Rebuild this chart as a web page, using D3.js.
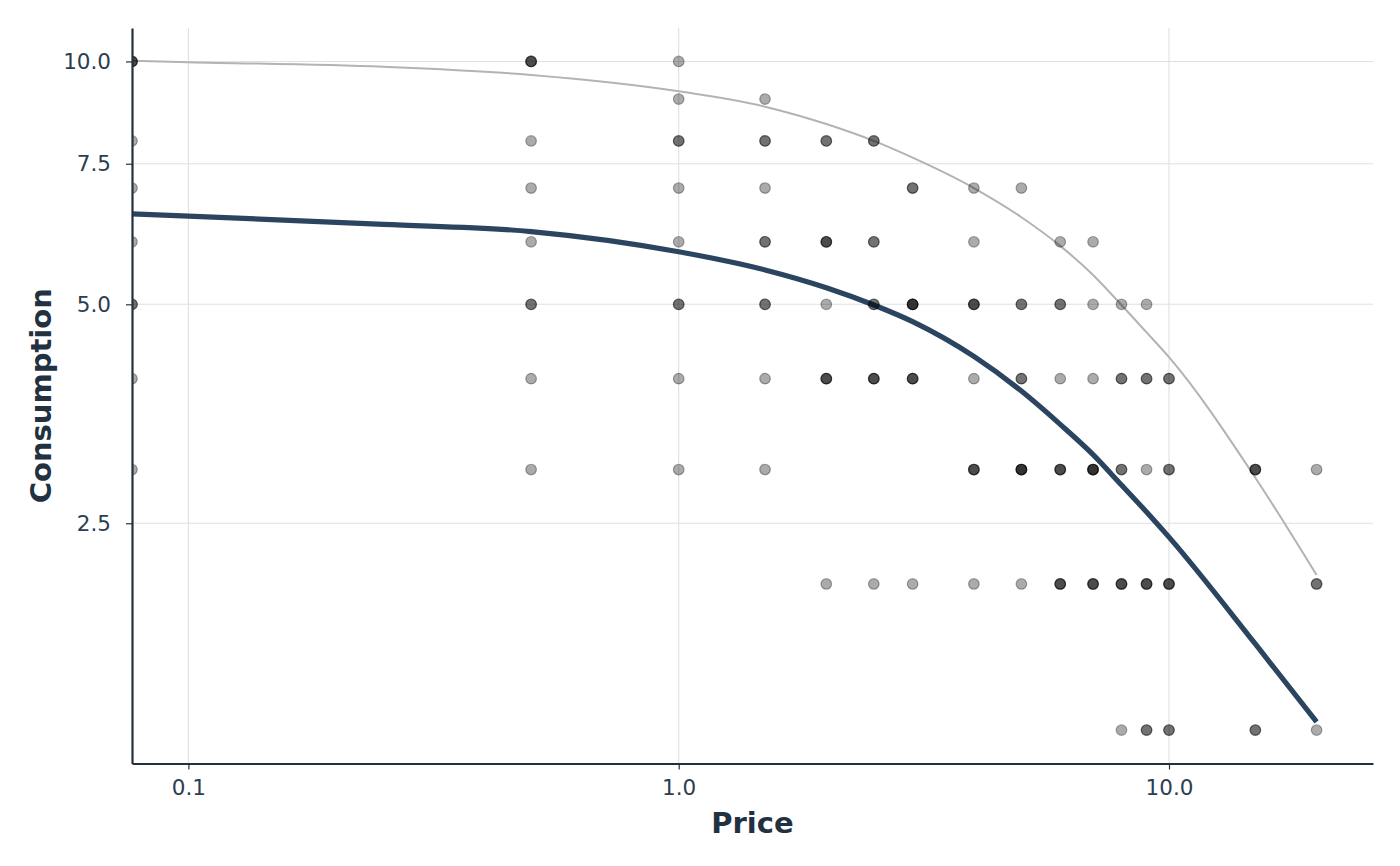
<!DOCTYPE html>
<html>
<head>
<meta charset="utf-8">
<script src="https://cdn.jsdelivr.net/npm/d3@7"></script>
<style>
  html, body { margin: 0; padding: 0; background: #ffffff; }
  svg { display: block; font-family: "DejaVu Sans", sans-serif; }
</style>
</head>
<body>
<svg id="chart" width="1400" height="866"></svg>
<script>
// ---------- data ----------
const xTickValues = [0.1, 1, 10];
const xTickLabels = ["0.1", "1.0", "10.0"];
const yTickValues = [2.5, 5, 7.5, 10];
const yTickLabels = ["2.5", "5.0", "7.5", "10.0"];

// observed data (price 0 is drawn at the left panel edge, as on a log axis)
const obsPrice = [0,0,0,0,0,0,0, 0.5,0.5,0.5,0.5,0.5,0.5,0.5, 1,1,1,1,1,1,1,1,
  1.5,1.5,1.5,1.5,1.5,1.5,1.5, 2,2,2,2,2, 2.5,2.5,2.5,2.5,2.5, 3,3,3,3,
  4,4,4,4,4,4, 5,5,5,5,5, 6,6,6,6,6, 7,7,7,7,7, 8,8,8,8,8, 9,9,9,9,9,
  10,10,10,10, 15,15, 20,20,20];
const obsConsumption = [10,8,7,6,5,4,3, 10,8,7,6,5,4,3, 10,9,8,7,6,5,4,3,
  9,8,7,6,5,4,3, 8,6,5,4,2, 8,6,5,4,2, 7,5,4,2,
  7,6,5,4,3,2, 7,5,4,3,2, 6,5,4,3,2, 6,5,4,3,2, 5,4,3,2,1, 5,4,3,2,1,
  4,3,2,1, 3,1, 3,2,1];
const obsCount = [3,1,1,1,2,1,1, 3,1,1,1,2,1,1, 1,1,2,1,1,2,1,1,
  1,2,1,2,2,1,1, 2,3,1,3,1, 2,2,2,3,1, 2,4,3,1,
  1,1,3,1,3,1, 1,2,2,4,1, 1,2,1,3,3, 1,1,1,4,3, 1,2,2,3,1, 1,2,1,3,2,
  2,2,3,2, 3,2, 1,2,1];

// fitted curves
const curvePrice = [0, 0.1, 0.25, 0.5, 1, 1.5, 2, 2.5, 3, 4, 5, 6, 7, 8, 9, 10, 15, 20];
const grayCurve  = [10.02, 9.98, 9.85, 9.63, 9.20, 8.81, 8.39, 8.00, 7.63, 7.00, 6.44, 5.93, 5.45, 4.99, 4.60, 4.27, 2.92, 2.07];
const blueCurve  = [6.50, 6.46, 6.31, 6.18, 5.83, 5.53, 5.25, 4.99, 4.75, 4.28, 3.85, 3.47, 3.15, 2.85, 2.60, 2.38, 1.56, 1.05];

// ---------- scales ----------
const svg = d3.select("#chart");
const L = 132, R = 1373, T = 28, B = 763.5;

const xLo = Math.log10(0.1), xHi = Math.log10(20), xPad = (xHi - xLo) * 0.05;
const x = d3.scaleLog().domain([Math.pow(10, xLo - xPad), Math.pow(10, xHi + xPad)]).range([L, R]);
const px = p => p > 0 ? x(p) : x.range()[0];

const yT = v => Math.asinh(v / 2);           // pseudo-log transform
const yLo = yT(1), yHi = yT(10), yPad = (yHi - yLo) * 0.05;
const yLin = d3.scaleLinear().domain([yLo - yPad, yHi + yPad]).range([B, T]);
const py = v => yLin(yT(v));

const gridColor = "#e0e0e0";
const axisColor = "#22313f";
const textColor = "#2c3e50";

// ---------- grid ----------
const grid = svg.append("g");
grid.selectAll("line.gx").data(xTickValues).enter().append("line")
  .attr("x1", d => x(d)).attr("x2", d => x(d)).attr("y1", T).attr("y2", B)
  .attr("stroke", gridColor).attr("stroke-width", 1.1);
grid.selectAll("line.gy").data(yTickValues).enter().append("line")
  .attr("x1", L).attr("x2", R).attr("y1", d => py(d)).attr("y2", d => py(d))
  .attr("stroke", gridColor).attr("stroke-width", 1.1);

// ---------- clip ----------
svg.append("defs").append("clipPath").attr("id", "panel")
  .append("rect").attr("x", L).attr("y", T).attr("width", R - L).attr("height", B - T);
const panel = svg.append("g").attr("clip-path", "url(#panel)");

// ---------- curves ----------
const line = d3.line().x(d => px(d[0])).y(d => py(d[1])).curve(d3.curveMonotoneX);
panel.append("path").datum(curvePrice.map((p, i) => [p, grayCurve[i]]))
  .attr("d", line).attr("fill", "none").attr("stroke", "#b3b3b3").attr("stroke-width", 2);
panel.append("path").datum(curvePrice.map((p, i) => [p, blueCurve[i]]))
  .attr("d", line).attr("fill", "none").attr("stroke", "#2b4561").attr("stroke-width", 5.2);

// ---------- points ----------
const pts = [];
obsPrice.forEach((p, i) => { for (let k = 0; k < obsCount[i]; k++) pts.push([p, obsConsumption[i]]); });
panel.selectAll("circle").data(pts).enter().append("circle")
  .attr("cx", d => px(d[0])).attr("cy", d => py(d[1])).attr("r", 5.3)
  .attr("fill", "#000").attr("fill-opacity", 0.33)
  .attr("stroke", "#000").attr("stroke-opacity", 0.33).attr("stroke-width", 1.2);

// ---------- axes ----------
const xAxis = svg.append("g").attr("transform", `translate(0,${B})`)
  .call(d3.axisBottom(x).tickValues(xTickValues).tickFormat((d, i) => xTickLabels[i]).tickSize(6).tickSizeOuter(0).tickPadding(10));
const yAxis = svg.append("g").attr("transform", `translate(${L},0)`)
  .call(d3.axisLeft(yLin).tickValues(yTickValues.map(yT)).tickFormat((d, i) => yTickLabels[i]).tickSize(6).tickSizeOuter(0).tickPadding(15));

[xAxis, yAxis].forEach(a => {
  a.select(".domain").attr("stroke", axisColor).attr("stroke-width", 2.2);
  a.selectAll(".tick line").attr("stroke", axisColor).attr("stroke-width", 1.2);
  a.selectAll(".tick text").attr("fill", textColor).attr("font-size", "21.5px")
    .attr("font-family", "DejaVu Sans, sans-serif");
});

// ---------- titles ----------
svg.append("text").attr("x", (L + R) / 2).attr("y", 833).attr("text-anchor", "middle")
  .attr("font-size", "29px").attr("font-weight", "bold").attr("fill", axisColor).text("Price");
svg.append("text").attr("transform", `translate(51,${(T + B) / 2}) rotate(-90)`).attr("text-anchor", "middle")
  .attr("font-size", "29px").attr("font-weight", "bold").attr("fill", axisColor).text("Consumption");
</script>
</body>
</html>
